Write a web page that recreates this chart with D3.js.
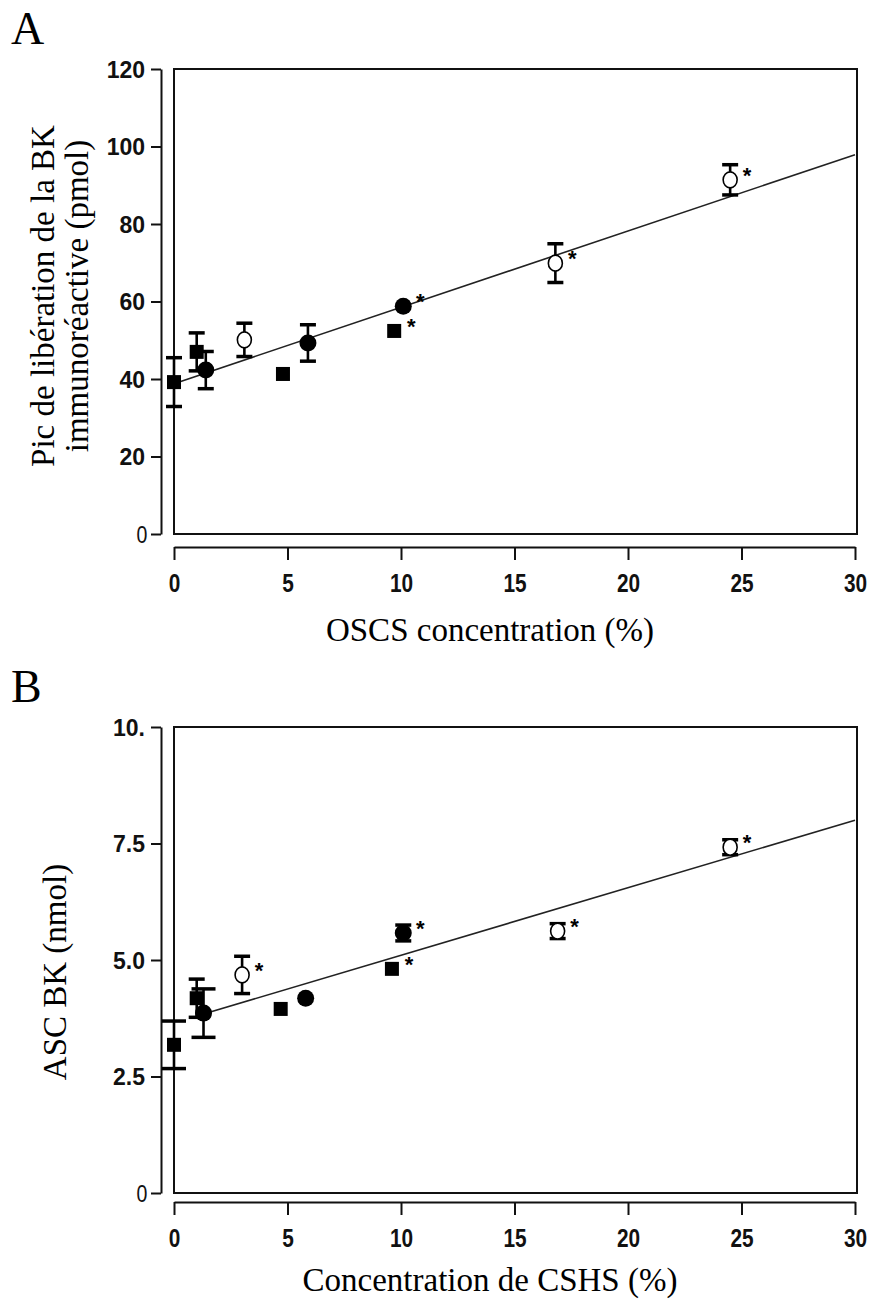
<!DOCTYPE html>
<html>
<head>
<meta charset="utf-8">
<script src="https://cdn.jsdelivr.net/npm/d3@7"></script>
<style>
  body { margin: 0; background: #fff; }
  svg { display: block; }
</style>
</head>
<body>
<svg id="chart" width="873" height="1299"></svg>
<script>
// panel A : peak of immunoreactive BK release vs OSCS concentration
let concA   = [0, 1.0, 1.4, 3.1, 4.8, 5.9, 9.7, 10.1, 16.8, 24.5];
let peakA   = [39.2, 47.0, 42.3, 50.1, 41.3, 49.3, 52.4, 58.8, 69.9, 91.4];
let errA    = [6.3, 4.9, 4.8, 4.3, 0, 4.7, 0, 0, 5.0, 3.9];
let shapeA  = ['square', 'square', 'circle', 'open', 'square', 'circle', 'square', 'circle', 'open', 'open'];
let sigA    = [0, 0, 0, 0, 0, 0, 1, 1, 1, 1];
let fitA    = [[0, 38.8], [30, 97.9]];
let yTicksA = [0, 20, 40, 60, 80, 100, 120];
let yLabelsA = ['0', '20', '40', '60', '80', '100', '120'];

// panel B : BK area under curve vs CSHS concentration
let concB   = [0, 1.0, 1.3, 3.0, 4.7, 5.8, 9.6, 10.1, 16.9, 24.5];
let aucB    = [3.18, 4.18, 3.86, 4.68, 3.95, 4.18, 4.81, 5.58, 5.62, 7.42];
let errB    = [0.51, 0.41, 0.52, 0.40, 0, 0, 0, 0.17, 0.16, 0.16];
let shapeB  = ['square', 'square', 'circle', 'open', 'square', 'circle', 'square', 'circle', 'open', 'open'];
let sigB    = [0, 0, 0, 1, 0, 0, 1, 1, 1, 1];
let fitB    = [[1.3, 3.84], [30, 8.0]];
let yTicksB = [0, 2.5, 5, 7.5, 10];
let yLabelsB = ['0', '2.5', '5.0', '7.5', '10.'];

let xTicks = [0, 5, 10, 15, 20, 25, 30];

let svg = d3.select('#chart');
let serif = '"Liberation Serif", "Times New Roman", serif';
let sans = '"Liberation Sans", Arial, sans-serif';

function makePanel(opt) {
  let x = d3.scaleLinear().domain([0, 30]).range([174, 855]);
  let y = d3.scaleLinear().domain([0, opt.ymax]).range([opt.bottom, opt.top]);
  let g = svg.append('g');

  // frame
  g.append('rect')
    .attr('x', x(0)).attr('y', opt.top)
    .attr('width', x(30) + 2 - x(0)).attr('height', opt.bottom - opt.top)
    .attr('fill', 'none').attr('stroke', '#111').attr('stroke-width', 2);

  // y axis, offset to the left
  let yAxis = g.append('g')
    .attr('transform', 'translate(161,0)')
    .call(d3.axisLeft(y).tickValues(opt.yTicks)
      .tickFormat(function(d, i) { return opt.yLabels[i]; })
      .tickSize(10).tickSizeOuter(0).tickPadding(6));

  // x axis, offset below
  let xAxis = g.append('g')
    .attr('transform', 'translate(0,' + (opt.bottom + opt.xGap) + ')')
    .call(d3.axisBottom(x).tickValues(xTicks).tickSize(13).tickSizeOuter(0).tickPadding(14));

  [yAxis, xAxis].forEach(function(ax) {
    ax.select('.domain').attr('stroke', '#111').attr('stroke-width', 2);
    ax.selectAll('.tick line').attr('stroke', '#111').attr('stroke-width', 2);
    ax.selectAll('.tick text')
      .attr('fill', '#111')
      .style('font-family', sans)
      .style('font-weight', 'bold')
      .style('font-size', '23px');
  });
  yAxis.selectAll('.tick text')
    .attr('dy', '0.36em')
    .filter(function(d) { return d === 0; })
    .style('font-weight', 'normal')
    .attr('transform', 'scale(0.85,1)');
  xAxis.selectAll('.tick text')
    .style('font-size', '26px')
    .attr('transform', 'scale(0.8,1)');

  // regression line
  g.append('path')
    .attr('d', d3.line().x(function(d) { return x(d[0]); }).y(function(d) { return y(d[1]); })(opt.fit))
    .attr('fill', 'none').attr('stroke', '#222').attr('stroke-width', 1.6);

  let pts = opt.xs.map(function(v, i) {
    return { x: v, y: opt.ys[i], e: opt.err[i], shape: opt.shape[i], sig: opt.sig[i], i: i };
  });

  // error bars
  let eb = g.selectAll('.eb').data(pts.filter(function(d) { return d.e > 0; }))
    .enter().append('g').attr('class', 'eb');
  eb.append('line')
    .attr('x1', function(d) { return x(d.x); }).attr('x2', function(d) { return x(d.x); })
    .attr('y1', function(d) { return y(d.y + d.e); }).attr('y2', function(d) { return y(d.y - d.e); })
    .attr('stroke', '#000').attr('stroke-width', 2.6);
  [1, -1].forEach(function(s) {
    eb.append('line')
      .attr('x1', function(d) { return x(d.x) - (opt.wide.indexOf(d.i) >= 0 ? 12 : 8); })
      .attr('x2', function(d) { return x(d.x) + (opt.wide.indexOf(d.i) >= 0 ? 12 : 8); })
      .attr('y1', function(d) { return y(d.y + s * d.e); })
      .attr('y2', function(d) { return y(d.y + s * d.e); })
      .attr('stroke', '#000').attr('stroke-width', 3.5);
  });

  // markers
  g.selectAll('.sq').data(pts.filter(function(d) { return d.shape === 'square'; }))
    .enter().append('rect')
    .attr('x', function(d) { return x(d.x) - 7; }).attr('y', function(d) { return y(d.y) - 7; })
    .attr('width', 14).attr('height', 14).attr('fill', '#000');
  g.selectAll('.ci').data(pts.filter(function(d) { return d.shape !== 'square'; }))
    .enter().append('ellipse')
    .attr('cx', function(d) { return x(d.x); }).attr('cy', function(d) { return y(d.y); })
    .attr('rx', function(d) { return d.shape === 'open' ? 7 : 8.5; })
    .attr('ry', function(d) { return d.shape === 'open' ? 8 : 8.5; })
    .attr('fill', function(d) { return d.shape === 'open' ? '#fff' : '#000'; })
    .attr('stroke', '#000').attr('stroke-width', function(d) { return d.shape === 'open' ? 1.6 : 0; });

  // significance stars
  g.selectAll('.star').data(pts.filter(function(d) { return d.sig; }))
    .enter().append('text')
    .attr('x', function(d) { return x(d.x) + 17; })
    .attr('y', function(d) { return y(d.y) + 3; })
    .attr('text-anchor', 'middle')
    .style('font-family', sans).style('font-weight', 'bold').style('font-size', '22px')
    .text('*');

  // titles
  g.append('text')
    .attr('x', 490).attr('y', opt.xTitleY)
    .attr('text-anchor', 'middle')
    .style('font-family', serif).style('font-size', '33px')
    .text(opt.xTitle);

  opt.yTitle.forEach(function(t, k) {
    g.append('text')
      .attr('transform', 'translate(' + opt.yTitleX[k] + ',' + opt.yTitleY + ') rotate(-90)')
      .attr('text-anchor', 'middle')
      .style('font-family', serif).style('font-size', '33px')
      .text(t);
  });

  g.append('text')
    .attr('x', 11).attr('y', opt.top - 25)
    .style('font-family', serif).style('font-size', '46px')
    .text(opt.letter);
}

makePanel({
  letter: 'A', top: 69, bottom: 534, ymax: 120, xGap: 13,
  yTicks: yTicksA, yLabels: yLabelsA,
  xs: concA, ys: peakA, err: errA, shape: shapeA, sig: sigA, fit: fitA, wide: [],
  xTitle: 'OSCS concentration (%)', xTitleY: 641,
  yTitle: ['Pic de libération de la BK', 'immunoréactive (pmol)'],
  yTitleX: [54, 88], yTitleY: 296
});

makePanel({
  letter: 'B', top: 727, bottom: 1193, ymax: 10, xGap: 9,
  yTicks: yTicksB, yLabels: yLabelsB,
  xs: concB, ys: aucB, err: errB, shape: shapeB, sig: sigB, fit: fitB, wide: [0, 2],
  xTitle: 'Concentration de CSHS (%)', xTitleY: 1291,
  yTitle: ['ASC BK (nmol)'],
  yTitleX: [66], yTitleY: 972
});
</script>
</body>
</html>
